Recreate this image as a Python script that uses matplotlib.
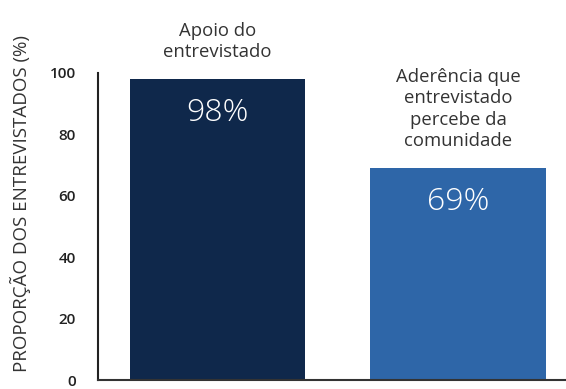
import matplotlib.pyplot as plt

categories = ['Apoio do\nentrevistado', 'Aderência que\nentrevistado\npercebe da\ncomunidade']
values = [98, 69]
value_labels = ['98%', '69%']
colors = ['#0f284b', '#2e66a8']

plt.rcParams['font.family'] = ['Open Sans', 'DejaVu Sans']

fig = plt.figure(figsize=(5.66, 3.89), dpi=100)
ax = fig.add_axes([98 / 566, 9 / 389, 468 / 566, 307 / 389])

x = range(len(values))
bars = ax.bar(x, values, width=0.728, color=colors)

for i, b in enumerate(bars):
    h = b.get_height()
    ax.text(b.get_x() + b.get_width() / 2, h - 11, value_labels[i],
            ha='center', va='center', color='white', fontsize=23,
            fontweight='light')
    ax.annotate(categories[i], (b.get_x() + b.get_width() / 2, h),
                xytext=(0, 13), textcoords='offset points',
                ha='center', va='bottom', fontsize=13.3, color='#333333',
                linespacing=1.25, annotation_clip=False)

ax.set_xlim(-0.497, 1.449)
ax.set_ylim(0, 100)
ax.set_yticks([0, 20, 40, 60, 80, 100])
ax.set_xticks([])
ax.tick_params(axis='y', length=0, pad=16, labelsize=11, labelcolor='#222222')
for lbl in ax.get_yticklabels():
    lbl.set_fontweight('semibold')

ax.spines['top'].set_visible(False)
ax.spines['right'].set_visible(False)
ax.spines['left'].set_color('#222222')
ax.spines['left'].set_linewidth(1.5)
ax.spines['bottom'].set_color('#333333')
ax.spines['bottom'].set_linewidth(1.5)

fig.text(20 / 566, 1 - 204 / 389, 'PROPORÇÃO DOS ENTREVISTADOS (%)',
         rotation=90, ha='center', va='center', fontsize=13.5, color='#333333')

fig.savefig('out.png', dpi=100)
